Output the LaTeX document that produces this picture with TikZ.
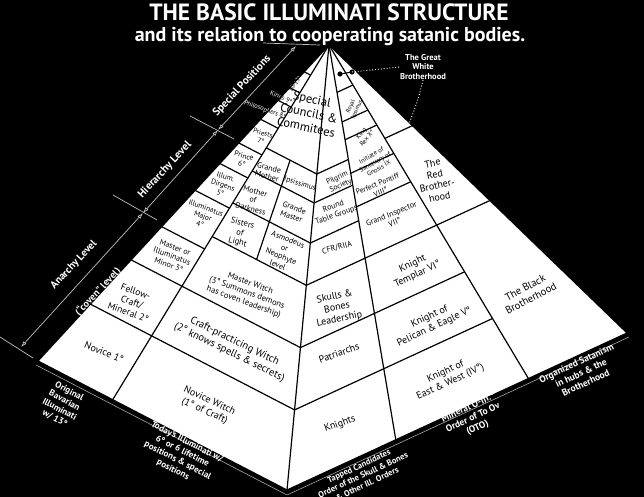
\documentclass[tikz,border=0pt]{standalone}
\usepackage{fontspec}
\setmainfont{PT Sans}
\usetikzlibrary{calc,arrows.meta,positioning}

\newcommand{\fsz}[1]{\fontsize{#1}{\dimexpr #1pt*23/20\relax}\selectfont}

\tikzset{
  wall/.style={draw=black, line width=1.2pt, line join=round},
  cell/.style={align=center, inner sep=0pt, text=black},
  lbl/.style={align=center, inner sep=0pt, text=white},
  lvl/.style={draw=white!75!black, line width=0.7pt, {Latex[open,length=6pt,width=4pt]}-{Latex[open,length=6pt,width=4pt]}},
  tickline/.style={draw=white!75!black, line width=0.7pt},
  gwdots/.style={draw=white, line width=0.9pt, dotted}
}

\begin{document}
\begin{tikzpicture}[x=1pt,y=-1pt]
	\useasboundingbox (0,0) rectangle (644,497);
	\fill[black] (0,0) rectangle (644,497);

	\coordinate (A) at (329,45);
	\coordinate (L) at (38,361);
	\coordinate (F) at (287,490);
	\coordinate (R) at (627,333);
	\coordinate (b1) at ($(L)!0.30!(F)$);
	\coordinate (b2) at ($(L)!0.63!(F)$);
	\coordinate (b3) at ($(F)!0.32!(R)$);
	\coordinate (b4) at ($(F)!0.71!(R)$);

	% texts running off the left edge, white part
	\node[lbl, font=\fsz{6.5}, rotate=-20] at (265,110) {Philosophers 8°};
	\node[lbl, font=\fsz{6.5}, rotate=-25] at (281,98) {Kings 9°};
	\node[lbl, font=\fsz{6}, rotate=55] at (295,84) {10-13°};

	\draw[white!65!black, line width=0.6pt] ($(L)+(-2,4)$) -- ($(F)+(0,5)$) -- ($(R)+(2,4)$);
	\fill[white] (A) -- (L) -- (F) -- (R) -- cycle;

	% columns
	\draw[wall] (A) -- (b1);
	\draw[wall] (A) -- (F);
	\draw[wall] (A) -- (b3);
	\draw[wall] (A) -- (b4);
	\draw[wall] ($(A)!0.29!(b2)$) -- ($(A)!0.54!(b2)$);

	% tiers
	\foreach \t in {0.085,0.135,0.175,0.235,0.31,0.375,0.46,0.575}
		\draw[wall] ($(A)!\t!(L)$) -- ($(A)!\t!(b1)$);
	\foreach \t in {0.68,0.82}
		\draw[wall] ($(A)!\t!(L)$) -- ($(A)!\t!(F)$) -- ($(A)!\t!(b4)$);
	\draw[wall] ($(A)!0.54!(b1)$) -- ($(A)!0.54!(F)$) -- ($(A)!0.54!(R)$);
	\foreach \t in {0.29,0.355,0.445}
		\draw[wall] ($(A)!\t!(b1)$) -- ($(A)!\t!(F)$) -- ($(A)!\t!(b3)$);
	\foreach \t in {0.12,0.195,0.24,0.325,0.41}
		\draw[wall] ($(A)!\t!(b3)$) -- ($(A)!\t!(b4)$);
	\draw[wall] ($(A)!0.28!(b4)$) -- ($(A)!0.28!(R)$);

	\draw[wall] (A) -- (L) -- (F) -- (R) -- cycle;

	% left column
	\node[cell, font=\fsz{10}, rotate=-22] (nov1) at (104,352) {Novice 1°};
	\node[cell, font=\fsz{9.5}, rotate=-20] (fell2) at (132,302) {Fellow-\\Craft/\\Mineral 2°};
	\node[cell, font=\fsz{8}, rotate=-20] (mast3) at (172,256) {Master or\\Illuminatus\\Minor 3°};
	\node[cell, font=\fsz{7.5}, rotate=-20] (maj4) at (203,216) {Illuminatus\\Major\\4°};
	\node[cell, font=\fsz{7.5}, rotate=-18] (dir5) at (223,185) {Illum.\\Dirgens\\5°};
	\node[cell, font=\fsz{7.5}, rotate=-15] (pri6) at (243,160) {Prince\\6°};
	\node[cell, font=\fsz{7}, rotate=-15] (prs7) at (262,137) {Priests\\7°};
	\begin{scope}
		\clip (A) -- (L) -- (F) -- (R) -- cycle;
		\node[cell, font=\fsz{6.5}, rotate=-20] (phi8) at (265,110) {Philosophers 8°};
		\node[cell, font=\fsz{6.5}, rotate=-25] (kin9) at (281,98) {Kings 9°};
		\node[cell, font=\fsz{6}, rotate=55] (top13) at (295,84) {10-13°};
	\end{scope}

	% witches
	\node[cell, font=\fsz{10}, rotate=-25] (nwitch) at (207,406) {Novice Witch\\(1° of Craft)};
	\node[cell, font=\fsz{10.5}, rotate=-26] (cwitch) at (232,347) {Craft-practicing Witch\\(2° knows spells \& secrets)};
	\node[cell, font=\fsz{8.5}, rotate=-20] (mwitch) at (247,293) {Master Witch\\(3° Summons demons\\has coven leadership)};
	\node[cell, font=\fsz{8.5}, rotate=-15] (sisters) at (240,233) {Sisters\\of\\Light};
	\node[cell, font=\fsz{8}, rotate=-15] (mother) at (253,200) {Mother\\of\\Darkness};
	\node[cell, font=\fsz{8}, rotate=-15] (gmother) at (268,172) {Grande\\Mother};
	\node[cell, font=\fsz{8}, rotate=-22] (asmo) at (283,252) {Asmodeus\\or\\Neophyte\\level};
	\node[cell, font=\fsz{8}, rotate=-20] (gmaster) at (293,212) {Grande\\Master};
	\node[cell, font=\fsz{7.5}, rotate=-18] (ipsi) at (300,184) {Ipsissimus};
	\node[cell, font=\fsz{12.5}, rotate=-12] (councils) at (309,113) {Special\\Councils \&\\Commitees};

	% front column
	\node[cell, font=\fsz{10}, rotate=20] (knights) at (340,424) {Knights};
	\node[cell, font=\fsz{10}, rotate=20] (patri) at (339,353) {Patriarchs};
	\node[cell, font=\fsz{10}, rotate=12] (skulls) at (337,308) {Skulls \&\\Bones\\Leadership};
	\node[cell, font=\fsz{8}, rotate=15] (cfr) at (337,248) {CFR/RIIA};
	\node[cell, font=\fsz{8}, rotate=20] (round) at (335,211) {Round\\Table Groups};
	\node[cell, font=\fsz{7.5}, rotate=25] (pilgrim) at (339,182) {Pilgrim\\Society};

	% oto column
	\node[cell, font=\fsz{10}, rotate=25] (eastwest) at (448,377) {Knight of\\East \& West (IV°)};
	\node[cell, font=\fsz{10}, rotate=25] (pelican) at (432,322) {Knight of\\Pelican \& Eagle V°};
	\node[cell, font=\fsz{10}, rotate=25] (templar) at (415,269) {Knight\\Templar VI°};
	\node[cell, font=\fsz{8}, rotate=22] (inspector) at (393,218) {Grand Inspector\\VII°};
	\node[cell, font=\fsz{7.5}, rotate=22] (pontiff) at (379,188) {Perfect Pontiff\\VIII°};
	\node[cell, font=\fsz{6.5}, rotate=30] (gnosis) at (375,162) {Initiate of\\Sanctuary of\\Gnosis IX};
	\node[cell, font=\fsz{6.5}, rotate=50] (rex) at (364,136) {King\\Rex X°};
	\node[cell, font=\fsz{6}, rotate=65] (royal) at (354,108) {Royal\\Ipsimus};

	% brotherhoods
	\node[cell, font=\fsz{10}, rotate=12] (redbro) at (436,180) {The\\Red\\Brother-\\hood};
	\node[cell, font=\fsz{10.5}, rotate=28] (blackbro) at (528,293) {The Black\\Brotherhood};

	% great white brotherhood
	\coordinate (gw1) at (340,74);
	\coordinate (gw2) at (352,72);
	\coordinate (gwedge) at ($(A)!0.27!(R)$);
	\draw[line width=1pt] (gw1) -- (gw2);
	\fill (gw1) circle (2.6);
	\fill (gw2) circle (2.6);
	\node[lbl, font=\bfseries\fsz{8.5}] (gwb) at (423,67) {The Great\\White\\Brotherhood};
	\draw[gwdots] (gw2) -- (gwb.west);
	\draw[gwdots] (gwb.south) .. controls (418,100) .. (gwedge);

	% titles
	\node[lbl, font=\bfseries\fsz{23.5}] (title) at (329,12) {THE BASIC ILLUMINATI STRUCTURE};
	\node[lbl, font=\bfseries\fsz{20}] (subtitle) at (330,37) {and its relation to cooperating satanic bodies.};

	% levels
	\coordinate (s0) at (296,46);
	\coordinate (s1) at (218,130);
	\coordinate (s2) at (143,213);
	\coordinate (s3) at (21,347);
	\coordinate (k0a) at (263,43);
	\coordinate (k0b) at (320,45);
	\coordinate (k1a) at (190,116);
	\coordinate (k1b) at (234,139);
	\coordinate (k2a) at (113,195);
	\coordinate (k2b) at (157,220);
	\coordinate (k3a) at (0,337);
	\coordinate (k3b) at (33,358);
	\draw[tickline] (k0a) -- (k0b);
	\draw[tickline] (k1a) -- (k1b);
	\draw[tickline] (k2a) -- (k2b);
	\draw[tickline] (k3a) -- (k3b);
	\draw[lvl] (s0) -- (s1);
	\draw[lvl] (s1) -- (s2);
	\draw[lvl] (s2) -- (s3);
	\node[lbl, font=\bfseries\fsz{11}, rotate=47] (spec) at (242,86) {Special Positions};
	\node[lbl, font=\bfseries\fsz{11}, rotate=47] (hier) at (165,170) {Hierarchy Level};
	\node[lbl, font=\bfseries\fsz{10.5}, rotate=47] (anar) at (74,265) {Anarchy Level};
	\node[lbl, font=\bfseries\fsz{10}, rotate=47] (coven) at (98,292) {(“coven” level)};

	% bottom labels
	\node[lbl, font=\bfseries\fsz{9}, rotate=-28] (bav) at (62,405) {Original\\Bavarian\\Illuminati\\w/ 13°};
	\node[lbl, font=\bfseries\fsz{9}, rotate=-27] (today) at (180,456) {Today's Illuminati w/\\6° or 6 lifetime\\positions \& special\\positions};
	\node[lbl, font=\bfseries\fsz{8.5}, rotate=25] (tapped) at (363,475) {Tapped Candidates\\Order of the Skull \& Bones\\\& Other Ill. Orders};
	\node[lbl, font=\bfseries\fsz{9.5}, rotate=25] (oto) at (473,418) {Mineral O-III.°\\Order of To Ov\\(OTO)};
	\node[lbl, font=\bfseries\fsz{9.5}, rotate=25] (satan) at (581,373) {Organized Satanism\\in hubs \& the\\Brotherhood};
\end{tikzpicture}
\end{document}
